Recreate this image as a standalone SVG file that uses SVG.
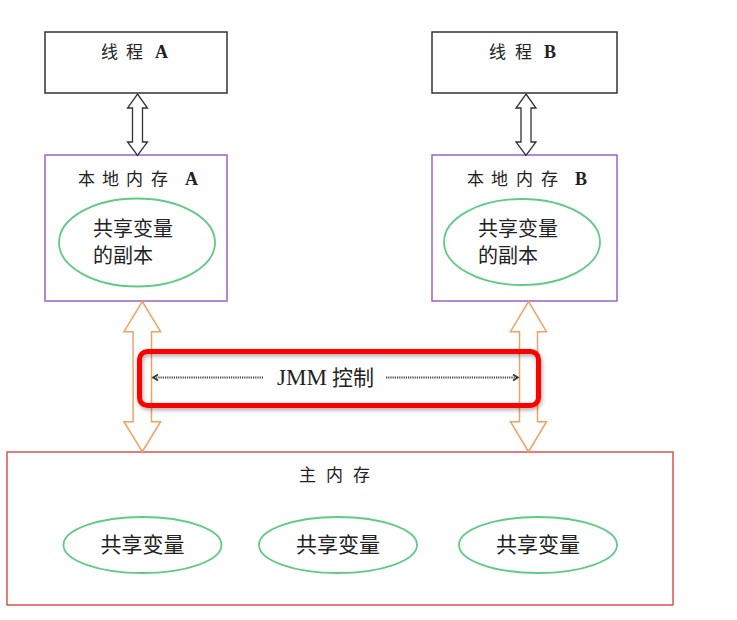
<svg xmlns="http://www.w3.org/2000/svg" width="737" height="620" viewBox="0 0 737 620">
<style>
.thread{fill:#fff;stroke:#333;stroke-width:1.5}
.local{fill:#fff;stroke:#9b63c9;stroke-width:1.5}
.main{fill:#fff;stroke:#e0504c;stroke-width:1.5}
.oval{fill:none;stroke:#5fcb84;stroke-width:1.8}
.cjk{font-family:"Noto Sans CJK SC","Noto Sans",sans-serif;fill:#222}
.lat{font-family:"Liberation Serif",serif;font-weight:bold;fill:#222}
.serif{font-family:"Liberation Serif",serif;font-weight:normal;fill:#222}
.harrow{fill:#fff;stroke:#333;stroke-width:1.3}
.oarrow{fill:none;stroke:#f3a063;stroke-width:1.5}
.dot{fill:none;stroke:#444;stroke-width:2;stroke-dasharray:1.2 1}
</style>
<defs>
<marker id="ah" markerWidth="8" markerHeight="8" refX="6" refY="4" orient="auto-start-reverse" markerUnits="userSpaceOnUse">
<path d="M1,1 L6,4 L1,7" fill="none" stroke="#333" stroke-width="1.6"/>
</marker>
<filter id="sh" x="-10%" y="-30%" width="120%" height="160%">
<feGaussianBlur in="SourceAlpha" stdDeviation="2"/>
<feOffset dx="1" dy="2"/>
<feComponentTransfer><feFuncA type="linear" slope="0.35"/></feComponentTransfer>
<feMerge><feMergeNode/><feMergeNode in="SourceGraphic"/></feMerge>
</filter>
</defs>
<rect width="737" height="620" fill="#fff"/>

<g id="threadA">
<rect class="thread" x="45" y="32" width="182" height="61"/>
<text class="cjk" y="58" font-size="17"><tspan x="101">线</tspan><tspan x="126">程</tspan><tspan x="155" class="lat" font-size="18">A</tspan></text>
</g>
<g id="threadB">
<rect class="thread" x="432" y="32" width="185" height="61"/>
<text class="cjk" y="58" font-size="17"><tspan x="489">线</tspan><tspan x="515">程</tspan><tspan x="544" class="lat" font-size="18">B</tspan></text>
</g>

<g id="localA">
<rect class="local" x="45" y="155" width="182" height="146"/>
<text class="cjk" y="185" font-size="17"><tspan x="78">本</tspan><tspan x="102">地</tspan><tspan x="126">内</tspan><tspan x="151">存</tspan><tspan x="185" class="lat" font-size="18">A</tspan></text>
<ellipse class="oval" cx="137" cy="242.5" rx="78" ry="44"/>
<text class="cjk" x="93" y="236" font-size="20">共享变量</text>
<text class="cjk" x="93" y="263" font-size="20">的副本</text>
</g>
<g id="localB">
<rect class="local" x="432" y="155" width="185" height="146"/>
<text class="cjk" y="185" font-size="17"><tspan x="467">本</tspan><tspan x="491">地</tspan><tspan x="516">内</tspan><tspan x="541">存</tspan><tspan x="575" class="lat" font-size="18">B</tspan></text>
<ellipse class="oval" cx="522" cy="242" rx="78" ry="43"/>
<text class="cjk" x="478" y="236" font-size="20">共享变量</text>
<text class="cjk" x="478" y="263" font-size="20">的副本</text>
</g>

<g id="mainMemory">
<rect class="main" x="7" y="452" width="666" height="153"/>
<text class="cjk" y="481" font-size="17"><tspan x="299">主</tspan><tspan x="326">内</tspan><tspan x="353">存</tspan></text>
<ellipse class="oval" cx="142.5" cy="545" rx="79" ry="28"/>
<text class="cjk" x="142.5" y="552" font-size="21" text-anchor="middle">共享变量</text>
<ellipse class="oval" cx="338" cy="545" rx="79" ry="28"/>
<text class="cjk" x="338" y="552" font-size="21" text-anchor="middle">共享变量</text>
<ellipse class="oval" cx="538" cy="545" rx="79" ry="28"/>
<text class="cjk" x="538" y="552" font-size="21" text-anchor="middle">共享变量</text>
</g>

<g id="connectors">
<polygon class="harrow" points="137.5,94 147.5,108 142.5,108 142.5,142 147.5,142 137.5,155.5 127.5,142 132.5,142 132.5,108 127.5,108"/>
<polygon class="harrow" points="526,94 536,108 531,108 531,142 536,142 526,155.5 516,142 521,142 521,108 516,108"/>
<polygon class="oarrow" points="142.3,301.5 160.6,331.7 151.5,331.7 151.5,421.7 160.6,421.7 142.3,451.7 124,421.7 133.1,421.7 133.1,331.7 124,331.7"/>
<polygon class="oarrow" points="528.5,301.5 546.5,331.7 537.5,331.7 537.5,421.7 546.5,421.7 528.5,451.7 510.5,421.7 519.5,421.7 519.5,331.7 510.5,331.7"/>
<line class="dot" x1="263" y1="377.5" x2="153" y2="377.5" marker-end="url(#ah)"/>
<line class="dot" x1="386" y1="377.5" x2="518" y2="377.5" marker-end="url(#ah)"/>
</g>

<g id="jmm">
<rect x="139.5" y="351.5" width="399" height="54" rx="8" ry="8" fill="none" stroke="#ff0000" stroke-width="5" filter="url(#sh)"/>
<text y="385" font-size="21"><tspan x="277" class="serif" font-size="23">JMM</tspan><tspan x="332" class="cjk">控制</tspan></text>
</g>
</svg>
